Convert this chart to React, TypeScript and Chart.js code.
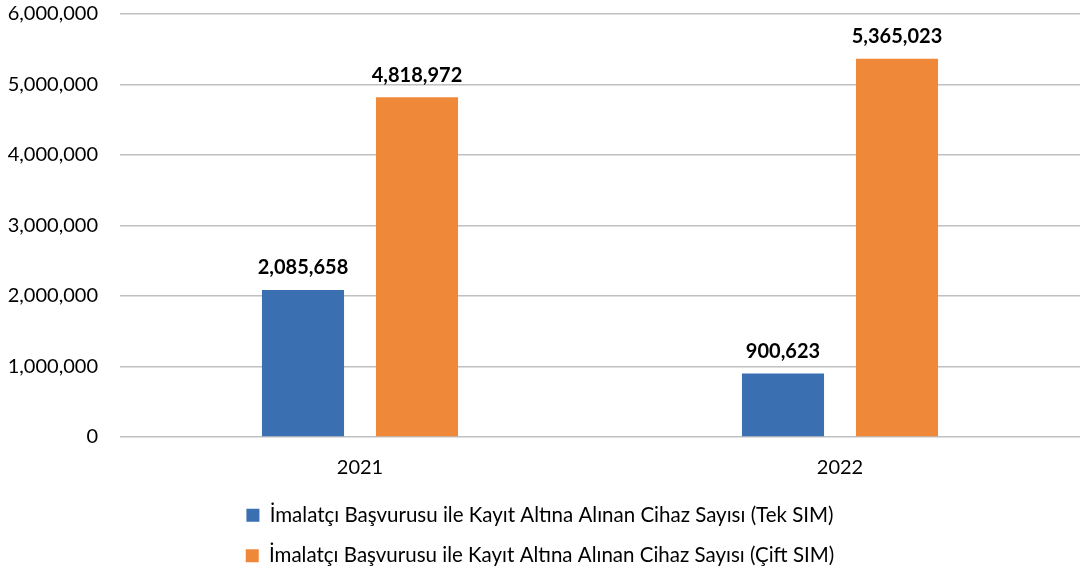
import React, { useEffect, useRef } from "react";
import { Chart, registerables } from "chart.js";

Chart.register(...registerables);

const categories = ["2021", "2022"];
const tekSim = [2085658, 900623];
const ciftSim = [4818972, 5365023];
const seriesNames = [
  "İmalatçı Başvurusu ile Kayıt Altına Alınan Cihaz Sayısı (Tek SIM)",
  "İmalatçı Başvurusu ile Kayıt Altına Alınan Cihaz Sayısı (Çift SIM)",
];
const yTicks = [0, 1000000, 2000000, 3000000, 4000000, 5000000, 6000000];

const FONT = "Lato, 'Open Sans', sans-serif";
const fmt = (v: number) => v.toLocaleString("en-US");

const labelPlugin = {
  id: "barLabels",
  afterDatasetsDraw(chart: any) {
    const ctx = chart.ctx;
    ctx.save();
    ctx.font = `bold 20px ${FONT}`;
    ctx.fillStyle = "#000";
    ctx.textAlign = "center";
    ctx.textBaseline = "middle";
    chart.data.datasets.forEach((ds: any, i: number) => {
      const meta = chart.getDatasetMeta(i);
      meta.data.forEach((bar: any, j: number) => {
        ctx.fillText(fmt(ds.data[j]), bar.x, bar.y - 22);
      });
    });
    ctx.restore();
  },
};

export default function App() {
  const ref = useRef<HTMLCanvasElement>(null);
  useEffect(() => {
    const chart = new Chart(ref.current!, {
      type: "bar",
      data: {
        labels: categories,
        datasets: [
          {
            label: seriesNames[0],
            data: tekSim,
            backgroundColor: "#3a6fb2",
            categoryPercentage: 0.475,
            barPercentage: 0.72,
          },
          {
            label: seriesNames[1],
            data: ciftSim,
            backgroundColor: "#f0883a",
            categoryPercentage: 0.475,
            barPercentage: 0.72,
          },
        ],
      },
      options: {
        animation: false,
        responsive: false,
        layout: { padding: { top: 14, right: 0, left: 0, bottom: -3 } },
        plugins: {
          legend: {
            position: "bottom",
            labels: {
              font: { family: FONT, size: 20.5 },
              color: "#000",
              boxWidth: 13,
              boxHeight: 13,
              padding: 20,
            },
          },
          tooltip: { enabled: false },
        },
        scales: {
          x: {
            grid: { display: false },
            border: { display: false },
            afterFit: (s: any) => {
              s.height = 48;
            },
            ticks: { font: { family: FONT, size: 20 }, color: "#000", padding: 11 },
          },
          y: {
            min: 0,
            max: 6000000,
            afterBuildTicks: (s: any) => {
              s.ticks = yTicks.map((v) => ({ value: v }));
            },
            afterFit: (s: any) => {
              s.width = 120;
            },
            border: { display: false },
            grid: {
              color: "#c0c0c0",
              lineWidth: 1.5,
              drawTicks: true,
              tickLength: 22,
              tickColor: "rgba(0,0,0,0)",
            },
            ticks: {
              font: { family: FONT, size: 20 },
              color: "#000",
              padding: 0,
              callback: (v: any) => fmt(Number(v)),
            },
          },
        },
      },
      plugins: [labelPlugin],
    });
    return () => chart.destroy();
  }, []);
  return (
    <div style={{ position: "fixed", left: 0, top: 0, width: 1080, height: 573, background: "#fff" }}>
      <canvas ref={ref} width={1080} height={573} />
    </div>
  );
}
